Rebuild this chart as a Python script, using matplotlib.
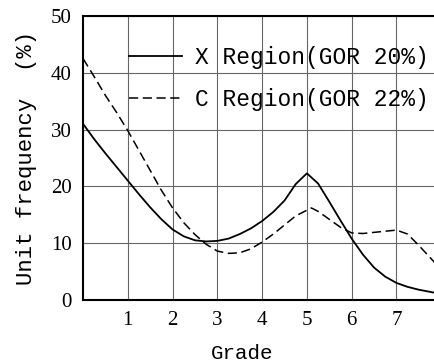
import matplotlib.pyplot as plt

# Values
grade_x = [0.0, 0.25, 0.5, 0.75, 1.0, 1.25, 1.5, 1.75, 2.0, 2.25, 2.5, 2.75,
           3.0, 3.25, 3.5, 3.75, 4.0, 4.25, 4.5, 4.75, 5.0, 5.25, 5.5, 5.75,
           6.0, 6.25, 6.5, 6.75, 7.0, 7.25, 7.5, 7.9]
freq_x = [31.0, 28.3, 25.8, 23.4, 21.0, 18.6, 16.3, 14.2, 12.4, 11.2, 10.5, 10.3,
          10.4, 10.8, 11.6, 12.6, 13.9, 15.5, 17.5, 20.4, 22.3, 20.5, 17.3, 14.0,
          10.8, 8.0, 5.7, 4.1, 3.0, 2.3, 1.8, 1.2]

grade_c = [0.0, 0.25, 0.5, 0.75, 1.0, 1.25, 1.5, 1.75, 2.0, 2.25, 2.5, 2.75,
           3.0, 3.25, 3.5, 3.75, 4.0, 4.25, 4.5, 4.75, 5.1, 5.25, 5.5, 5.75,
           6.0, 6.25, 6.5, 6.75, 7.0, 7.25, 7.5, 7.9]
freq_c = [42.5, 39.3, 36.0, 33.0, 29.8, 26.3, 22.8, 19.3, 16.2, 13.6, 11.5, 9.8,
          8.6, 8.2, 8.3, 9.0, 10.2, 11.6, 13.2, 14.8, 16.2, 15.6, 14.2, 12.8,
          11.8, 11.7, 11.9, 12.1, 12.3, 11.6, 9.6, 6.2]

labels = ["X Region(GOR 20%)", "C Region(GOR 22%)"]
x_ticks = [1, 2, 3, 4, 5, 6, 7]
y_ticks = [0, 10, 20, 30, 40, 50]

mono = "Liberation Mono"
serif = "Liberation Serif"

fig = plt.figure(figsize=(4.35, 3.64), dpi=100)
ax = fig.add_axes([0.191, 0.176, 0.815, 0.780])

ax.plot(grade_x, freq_x, color="black", linewidth=1.3, label=labels[0])
ax.plot(grade_c, freq_c, color="black", linewidth=1.1, linestyle=(0, (6, 3)),
        label=labels[1])

ax.set_xlim(0, 7.92)
ax.set_ylim(0, 50)
ax.set_xticks(x_ticks)
ax.set_yticks(y_ticks)
ax.tick_params(length=0, pad=8)
for lab in ax.get_xticklabels() + ax.get_yticklabels():
    lab.set_fontfamily(serif)
    lab.set_fontsize(15)

ax.grid(True, color="#666666", linewidth=0.8)
for spine in ax.spines.values():
    spine.set_linewidth(1.5)
ax.spines["right"].set_visible(False)

ax.set_xlabel("Grade", fontfamily=mono, fontsize=15)
ax.xaxis.set_label_coords(0.45, -0.155)
ax.set_ylabel("Unit frequency  (%)", fontfamily=mono, fontsize=16, labelpad=10)

ax.legend(loc="upper left", bbox_to_anchor=(0.105, 0.925), frameon=False,
          prop={"family": mono, "size": 16.5}, handlelength=2.3,
          handletextpad=0.55, labelspacing=0.8, borderaxespad=0)

fig.savefig("out.png", dpi=100)
